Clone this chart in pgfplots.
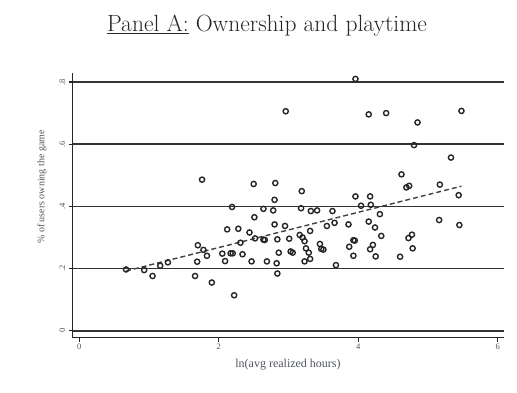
\documentclass[border=0pt]{standalone}
\usepackage{fontspec}
\setmainfont{Liberation Serif}
\newfontfamily\lmfont{Latin Modern Roman}
\usepackage{pgfplots}
\pgfplotsset{compat=1.18}
\definecolor{txtgray}{RGB}{80,85,95}
\begin{document}
\begin{tikzpicture}
\begin{axis}[
  at={(72.7pt,54.3pt)}, anchor=south west,
  scale only axis, width=431.3pt, height=265pt,
  xmin=-0.095, xmax=6.09, ymin=-0.0225, ymax=0.83,
  axis x line*=bottom, axis y line*=left,
  axis line style={line width=1.4pt, black!85},
  xtick={0,2,4,6}, xticklabels={0,2,4,6},
  ytick={0,0.2,0.4,0.6,0.8}, yticklabels={0,.2,.4,.6,.8},
  tick style={line width=1.2pt, black!85},
  tick align=outside, major tick length=4pt,
  ymajorgrids, grid style={line width=1.7pt, black!80},
  /pgf/number format/assume math mode=true,
  tick label style={font=\fontsize{8.5}{9}\selectfont, text=txtgray},
  yticklabel style={rotate=90, anchor=south, xshift=0pt},
  xticklabel style={yshift=1pt},
  clip=false,
]
\addplot[only marks, mark=o, mark size=2.6pt, mark options={line width=1.4pt, black!85}] coordinates {
(3.96,0.810) (2.96,0.706) (4.15,0.696) (4.40,0.700) (5.48,0.707) (4.85,0.670)
(4.80,0.597) (5.33,0.557) (1.76,0.486) (2.50,0.472) (2.81,0.475) (4.62,0.503)
(4.69,0.461) (4.73,0.466) (5.17,0.470) (3.19,0.449) (2.80,0.421) (3.96,0.432)
(4.17,0.432) (5.44,0.436) (2.19,0.398) (2.64,0.392) (2.78,0.387) (3.18,0.394)
(3.32,0.385) (3.41,0.387) (3.63,0.385) (4.04,0.402) (4.18,0.405) (2.51,0.365)
(4.31,0.375) (2.80,0.342) (2.95,0.337) (3.66,0.347) (3.55,0.337) (3.86,0.342)
(4.15,0.351) (4.24,0.332) (5.16,0.356) (5.45,0.340) (2.12,0.326) (2.28,0.328)
(2.44,0.316) (2.52,0.297) (2.64,0.293) (2.66,0.292) (2.84,0.294) (3.01,0.296)
(3.16,0.308) (3.20,0.300) (3.23,0.288) (3.31,0.321) (4.33,0.305) (4.77,0.309)
(4.72,0.298) (2.31,0.283) (1.70,0.275) (1.78,0.260) (1.83,0.241) (2.05,0.248)
(2.17,0.249) (2.20,0.249) (2.34,0.246) (2.86,0.251) (3.03,0.255) (3.06,0.251)
(3.25,0.265) (3.29,0.251) (3.45,0.279) (3.47,0.263) (3.50,0.261) (3.87,0.270)
(3.93,0.291) (3.95,0.290) (4.21,0.276) (4.17,0.262) (4.78,0.265) (1.69,0.222)
(2.09,0.224) (2.47,0.223) (2.69,0.223) (2.83,0.217) (3.23,0.223) (3.31,0.231)
(3.93,0.241) (4.25,0.239) (4.60,0.238) (3.68,0.211) (2.84,0.184) (0.67,0.197)
(0.93,0.195) (1.05,0.176) (1.16,0.209) (1.27,0.220) (1.66,0.176) (1.90,0.155)
(2.22,0.114)
};
\addplot[no marks, dashed, dash pattern=on 5pt off 3pt, line width=1.4pt, black!75] coordinates {(0.67,0.192) (5.48,0.465)};
\end{axis}
\node[text=txtgray, font=\fontsize{10}{11}\selectfont, rotate=90] at (42pt,205pt) {\% of users owning the game};
\node[text=txtgray, font=\fontsize{12}{13}\selectfont] at (288pt,27pt) {ln(avg realized hours)};
\node[text=black!85, font=\lmfont\fontsize{23.5}{27}\selectfont] at (267pt,366pt) {\underline{Panel A:} Ownership and playtime};
\pgfresetboundingbox
\path[use as bounding box] (0pt,0pt) rectangle (517pt,392pt);
\end{tikzpicture}
\end{document}
